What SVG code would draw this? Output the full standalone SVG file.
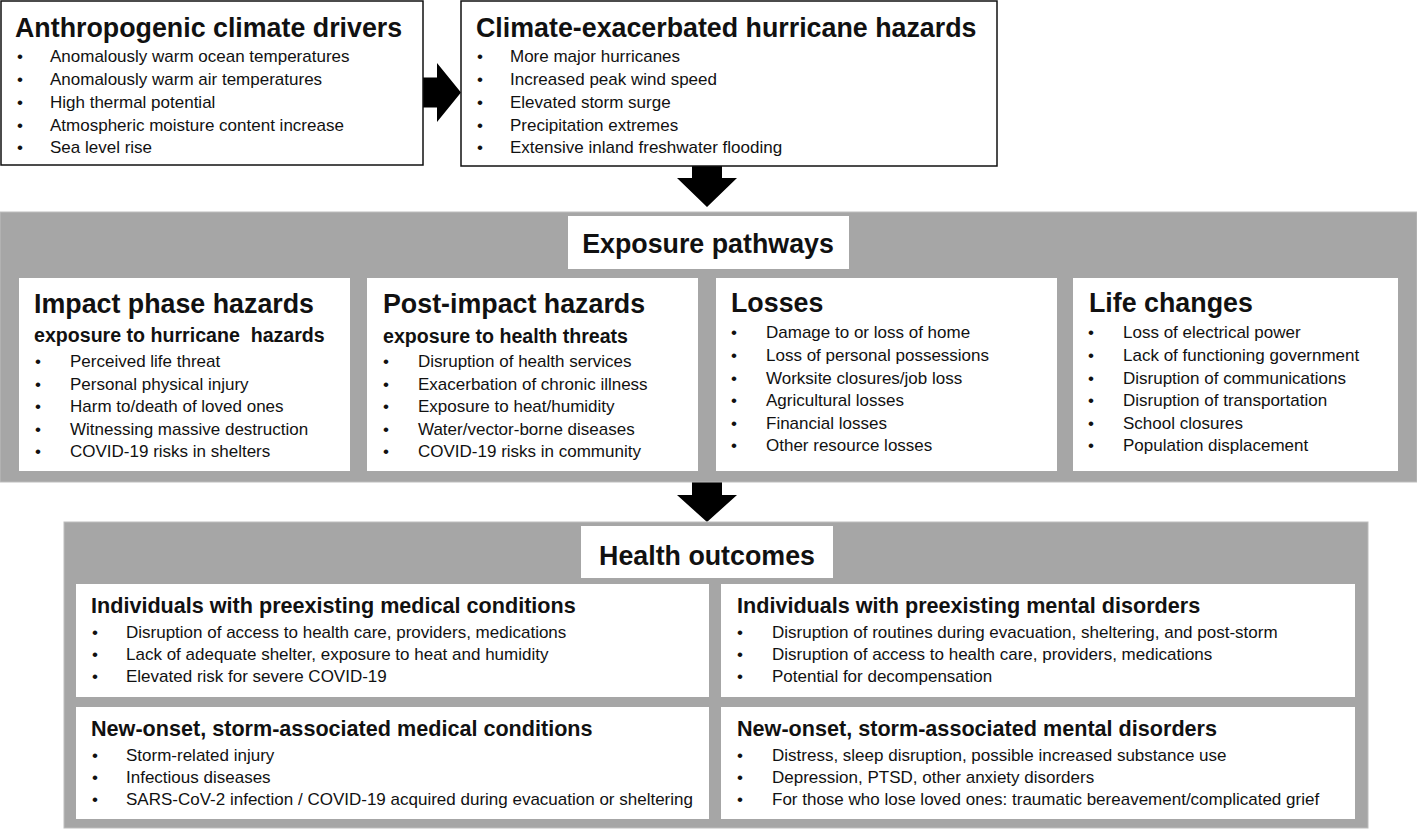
<svg xmlns="http://www.w3.org/2000/svg" width="1417" height="829" viewBox="0 0 1417 829">
<style>
text{font-family:"Liberation Sans",Arial,sans-serif;fill:#111}
.box{fill:#fff;stroke:#111;stroke-width:1.5}
.band{fill:#a6a6a6;stroke:#bdbdbd;stroke-width:1}
.panel{fill:#fff}
.t1{font-size:26.8px;font-weight:bold}
.t2{font-size:21.6px;font-weight:bold}
.sub{font-size:19.6px;font-weight:bold}
.li{font-size:17px}
.b{font-size:17px;text-anchor:middle}
.arrow{fill:#000}
</style>
<rect width="1417" height="829" fill="#fff"/>
<g id="connectors">
<polygon class="arrow" points="423,77.5 437,77.5 437,63 461,92.5 437,122 437,107.5 423,107.5"/>
<polygon class="arrow" points="692,166 722,166 722,178 737,178 707,207 677,178 692,178"/>
<polygon class="arrow" points="692,482 722,482 722,495 737,495 707,522 677,495 692,495"/>
</g>
<g id="drivers">
<rect class="box" x="1" y="1" width="422" height="164"/>
<text class="t1" x="15" y="37">Anthropogenic climate drivers</text>
<text class="b" x="20" y="62">•</text><text class="li" x="50" y="62">Anomalously warm ocean temperatures</text>
<text class="b" x="20" y="85">•</text><text class="li" x="50" y="85">Anomalously warm air temperatures</text>
<text class="b" x="20" y="108">•</text><text class="li" x="50" y="108">High thermal potential</text>
<text class="b" x="20" y="131">•</text><text class="li" x="50" y="131">Atmospheric moisture content increase</text>
<text class="b" x="20" y="153">•</text><text class="li" x="50" y="153">Sea level rise</text>
</g>
<g id="hazards">
<rect class="box" x="461" y="1" width="536" height="165"/>
<text class="t1" x="476" y="37">Climate-exacerbated hurricane hazards</text>
<text class="b" x="480" y="62">•</text><text class="li" x="510" y="62">More major hurricanes</text>
<text class="b" x="480" y="85">•</text><text class="li" x="510" y="85">Increased peak wind speed</text>
<text class="b" x="480" y="108">•</text><text class="li" x="510" y="108">Elevated storm surge</text>
<text class="b" x="480" y="131">•</text><text class="li" x="510" y="131">Precipitation extremes</text>
<text class="b" x="480" y="153">•</text><text class="li" x="510" y="153">Extensive inland freshwater flooding</text>
</g>
<g id="exposure-pathways">
<rect class="band" x="0" y="212" width="1417" height="270"/>
<rect class="panel" x="568" y="216" width="281" height="53"/>
<text class="t1" x="708" y="253" text-anchor="middle">Exposure pathways</text>
</g>
<g id="impact-phase">
<rect class="panel" x="19" y="278" width="331" height="193"/>
<text class="t1" x="34" y="313">Impact phase hazards</text>
<text class="sub" x="34" y="342" xml:space="preserve">exposure to hurricane  hazards</text>
<text class="b" x="38" y="367">•</text><text class="li" x="70" y="367">Perceived life threat</text>
<text class="b" x="38" y="389.5">•</text><text class="li" x="70" y="389.5">Personal physical injury</text>
<text class="b" x="38" y="412">•</text><text class="li" x="70" y="412">Harm to/death of loved ones</text>
<text class="b" x="38" y="434.5">•</text><text class="li" x="70" y="434.5">Witnessing massive destruction</text>
<text class="b" x="38" y="457">•</text><text class="li" x="70" y="457">COVID-19 risks in shelters</text>
</g>
<g id="post-impact">
<rect class="panel" x="367" y="278" width="331" height="193"/>
<text class="t1" x="383" y="313">Post-impact hazards</text>
<text class="sub" x="383" y="343">exposure to health threats</text>
<text class="b" x="386" y="367">•</text><text class="li" x="418" y="367">Disruption of health services</text>
<text class="b" x="386" y="389.5">•</text><text class="li" x="418" y="389.5">Exacerbation of chronic illness</text>
<text class="b" x="386" y="412">•</text><text class="li" x="418" y="412">Exposure to heat/humidity</text>
<text class="b" x="386" y="434.5">•</text><text class="li" x="418" y="434.5">Water/vector-borne diseases</text>
<text class="b" x="386" y="457">•</text><text class="li" x="418" y="457">COVID-19 risks in community</text>
</g>
<g id="losses">
<rect class="panel" x="716" y="278" width="341" height="193"/>
<text class="t1" x="731" y="312">Losses</text>
<text class="b" x="734" y="338">•</text><text class="li" x="766" y="338">Damage to or loss of home</text>
<text class="b" x="734" y="361">•</text><text class="li" x="766" y="361">Loss of personal possessions</text>
<text class="b" x="734" y="383.5">•</text><text class="li" x="766" y="383.5">Worksite closures/job loss</text>
<text class="b" x="734" y="406">•</text><text class="li" x="766" y="406">Agricultural losses</text>
<text class="b" x="734" y="429">•</text><text class="li" x="766" y="429">Financial losses</text>
<text class="b" x="734" y="451">•</text><text class="li" x="766" y="451">Other resource losses</text>
</g>
<g id="life-changes">
<rect class="panel" x="1073" y="278" width="325" height="193"/>
<text class="t1" x="1089" y="312">Life changes</text>
<text class="b" x="1091" y="338">•</text><text class="li" x="1123" y="338">Loss of electrical power</text>
<text class="b" x="1091" y="361">•</text><text class="li" x="1123" y="361">Lack of functioning government</text>
<text class="b" x="1091" y="383.5">•</text><text class="li" x="1123" y="383.5">Disruption of communications</text>
<text class="b" x="1091" y="406">•</text><text class="li" x="1123" y="406">Disruption of transportation</text>
<text class="b" x="1091" y="429">•</text><text class="li" x="1123" y="429">School closures</text>
<text class="b" x="1091" y="451">•</text><text class="li" x="1123" y="451">Population displacement</text>
</g>
<g id="health-outcomes">
<rect class="band" x="64" y="522" width="1304" height="306"/>
<rect class="panel" x="581" y="526" width="252" height="52"/>
<text class="t1" x="707" y="565" text-anchor="middle">Health outcomes</text>
</g>
<g id="preexisting-medical">
<rect class="panel" x="76" y="584" width="633" height="113"/>
<text class="t2" x="91" y="613">Individuals with preexisting medical conditions</text>
<text class="b" x="95" y="638">•</text><text class="li" x="126" y="638">Disruption of access to health care, providers, medications</text>
<text class="b" x="95" y="660">•</text><text class="li" x="126" y="660">Lack of adequate shelter, exposure to heat and humidity</text>
<text class="b" x="95" y="682">•</text><text class="li" x="126" y="682">Elevated risk for severe COVID-19</text>
</g>
<g id="preexisting-mental">
<rect class="panel" x="721" y="584" width="634" height="113"/>
<text class="t2" x="737" y="613">Individuals with preexisting mental disorders</text>
<text class="b" x="740" y="638">•</text><text class="li" x="772" y="638">Disruption of routines during evacuation, sheltering, and post-storm</text>
<text class="b" x="740" y="660">•</text><text class="li" x="772" y="660">Disruption of access to health care, providers, medications</text>
<text class="b" x="740" y="682">•</text><text class="li" x="772" y="682">Potential for decompensation</text>
</g>
<g id="new-medical">
<rect class="panel" x="76" y="707" width="633" height="112"/>
<text class="t2" x="91" y="736">New-onset, storm-associated medical conditions</text>
<text class="b" x="95" y="761">•</text><text class="li" x="126" y="761">Storm-related injury</text>
<text class="b" x="95" y="783">•</text><text class="li" x="126" y="783">Infectious diseases</text>
<text class="b" x="95" y="805">•</text><text class="li" x="126" y="805">SARS-CoV-2 infection / COVID-19 acquired during evacuation or sheltering</text>
</g>
<g id="new-mental">
<rect class="panel" x="721" y="707" width="634" height="112"/>
<text class="t2" x="737" y="736">New-onset, storm-associated mental disorders</text>
<text class="b" x="740" y="761">•</text><text class="li" x="772" y="761">Distress, sleep disruption, possible increased substance use</text>
<text class="b" x="740" y="783">•</text><text class="li" x="772" y="783">Depression, PTSD, other anxiety disorders</text>
<text class="b" x="740" y="805">•</text><text class="li" x="772" y="805">For those who lose loved ones: traumatic bereavement/complicated grief</text>
</g>
</svg>
